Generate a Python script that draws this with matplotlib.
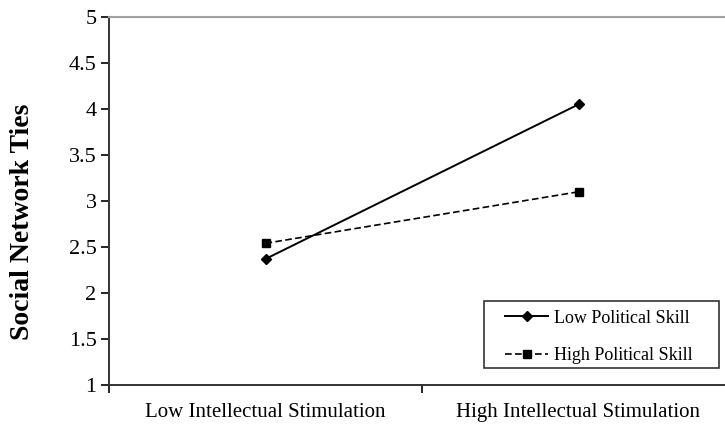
import matplotlib
matplotlib.use("Agg")
import matplotlib.pyplot as plt
from matplotlib.patches import Rectangle

plt.rcParams['font.family'] = ['Liberation Serif', 'DejaVu Serif']

categories = ["Low Intellectual Stimulation", "High Intellectual Stimulation"]
low_skill = [2.37, 4.05]
high_skill = [2.54, 3.10]
y_ticks = [1, 1.5, 2, 2.5, 3, 3.5, 4, 4.5, 5]
y_tick_labels = ["1", "1.5", "2", "2.5", "3", "3.5", "4", "4.5", "5"]

fig = plt.figure(figsize=(7.25, 4.24), dpi=100)
# plot area runs slightly past the right edge, as in the original
ax = fig.add_axes([109 / 725, 1 - 385 / 424, 626 / 725, 368 / 424])

x = list(range(len(categories)))
ax.plot(x, low_skill, color="black", linestyle="-", linewidth=1.4,
        marker="D", markersize=5, label="Low Political Skill")
ax.plot(x, high_skill, color="black", linestyle=(0, (4, 2)), linewidth=1.2,
        marker="s", markersize=6, label="High Political Skill")

ax.set_xlim(-0.5, 1.5)
ax.set_ylim(1, 5)
ax.set_yticks(y_ticks)
ax.set_yticklabels(y_tick_labels, fontsize=16)
ax.set_xticks(x)
ax.set_xticklabels(categories, fontsize=15)
ax.set_xticks([-0.5, 0.5, 1.5], minor=True)
ax.tick_params(axis="x", which="major", length=0, pad=13)
ax.tick_params(axis="x", which="minor", length=6, direction="out", width=1.2)
ax.tick_params(axis="y", length=6, direction="out", width=1.2, pad=3)

ax.spines["right"].set_visible(False)
ax.spines["top"].set_color("#a0a0a0")
ax.spines["top"].set_linewidth(1.5)
for side in ("left", "bottom"):
    ax.spines[side].set_linewidth(1.4)
    ax.spines[side].set_color("#333333")

ax.set_ylabel("Social Network Ties", fontsize=20, fontweight="bold")
# the label sits a bit below the middle of the axis in the original
ax.yaxis.set_label_coords(-0.118, 0.443)

# legend without its own frame; the box is drawn separately so the
# horizontal and vertical padding can differ, as in the original
leg = ax.legend(loc="center left", bbox_to_anchor=(505 / 725, 1 - 337 / 424),
                bbox_transform=fig.transFigure, fontsize=13, frameon=False,
                handlelength=2.4, handletextpad=0.3, borderpad=0,
                borderaxespad=0, labelspacing=1.15)
fig.patches.append(Rectangle((484 / 725, 1 - 368 / 424), 235 / 725, 67 / 424,
                             transform=fig.transFigure, fill=False,
                             edgecolor="#333333", linewidth=1.2))

fig.savefig("out.png", dpi=100)
